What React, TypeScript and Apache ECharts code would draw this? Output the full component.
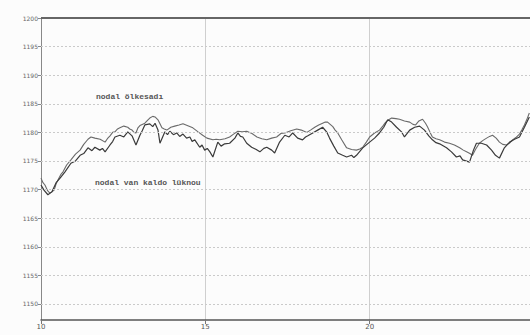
import React, { useEffect, useRef } from "react";
import * as echarts from "echarts";

const xTicks = [10, 15, 20];
const yTicks = [1150, 1155, 1160, 1165, 1170, 1175, 1180, 1185, 1190, 1195, 1200];

const upperX = [
  10.0, 10.06, 10.12, 10.2, 10.27, 10.33, 10.4, 10.46, 10.52, 10.6, 10.67, 10.78, 10.91, 11.05, 11.19, 11.3,
  11.43, 11.52, 11.64, 11.8, 11.95, 12.02, 12.1, 12.18, 12.25, 12.33, 12.4, 12.52, 12.64, 12.7, 12.77, 12.83,
  12.89, 12.95, 13.01, 13.08, 13.16, 13.24, 13.31, 13.4, 13.47, 13.56, 13.62, 13.68, 13.75, 13.83, 13.95, 14.07,
  14.2, 14.32, 14.45, 14.62, 14.78, 14.92, 15.05, 15.23, 15.33, 15.44, 15.6, 15.74, 15.86, 15.99, 16.12, 16.26,
  16.42, 16.57, 16.72, 16.87, 17.02, 17.17, 17.3, 17.42, 17.6, 17.78, 17.92, 18.09, 18.2, 18.33, 18.45, 18.57,
  18.65, 18.72, 18.8, 18.88, 18.95, 19.03, 19.15, 19.3, 19.45, 19.6, 19.7, 19.79, 19.9, 20.0, 20.15, 20.3,
  20.4, 20.49, 20.58, 20.67, 20.8, 20.91, 21.06, 21.22, 21.32, 21.4, 21.5, 21.61, 21.7, 21.76, 21.84, 21.91,
  22.02, 22.13, 22.28, 22.43, 22.58, 22.74, 22.85, 22.95, 23.05, 23.13, 23.22, 23.34, 23.45, 23.56, 23.65, 23.74,
  23.85, 23.95, 24.05, 24.16, 24.25, 24.35, 24.45, 24.56, 24.63, 24.71, 24.8, 24.86,
];
const upperY = [
  1172.0, 1171.2, 1170.8, 1169.8, 1169.4, 1169.6, 1169.9, 1171.0, 1171.7, 1172.6, 1173.1, 1174.3, 1175.2, 1176.2, 1176.9, 1177.9,
  1178.8, 1179.2, 1179.0, 1178.8, 1178.3, 1178.9, 1179.4, 1180.0, 1180.1, 1180.6, 1180.8, 1181.1, 1180.9, 1180.6, 1180.4, 1180.0,
  1179.9, 1180.8, 1181.2, 1181.4, 1181.6, 1182.1, 1182.5, 1182.8, 1182.7, 1182.2, 1181.5, 1180.8, 1180.6, 1180.4, 1180.9, 1181.1,
  1181.3, 1181.5, 1181.2, 1180.8, 1180.1, 1179.5, 1179.0, 1178.7, 1178.8, 1178.7, 1178.9, 1179.2, 1179.7, 1180.2, 1180.1, 1180.2,
  1179.8, 1179.2, 1178.9, 1178.7, 1179.0, 1179.2, 1179.8, 1179.9, 1180.3, 1180.6, 1180.4, 1180.0, 1180.4, 1180.9, 1181.3, 1181.6,
  1181.8, 1181.8, 1181.4, 1181.0, 1180.4, 1179.9, 1178.7, 1177.3, 1177.0, 1176.9, 1177.1, 1177.4, 1178.3, 1179.2, 1179.9, 1180.4,
  1181.1, 1181.8, 1182.2, 1182.5, 1182.4, 1182.3, 1182.0, 1181.8, 1181.4, 1181.3, 1182.0, 1182.3, 1181.6, 1181.0, 1180.0, 1179.2,
  1178.9, 1178.7, 1178.3, 1178.1, 1177.8, 1177.3, 1176.9, 1176.6, 1176.3, 1176.0, 1177.0, 1178.1, 1178.6, 1179.0, 1179.3, 1179.5,
  1179.0, 1178.3, 1177.9, 1177.8, 1178.1, 1178.7, 1179.1, 1179.7, 1180.4, 1181.3, 1182.5, 1183.4,
];

const lowerX = [
  10.0, 10.09, 10.21, 10.33, 10.46, 10.58, 10.73, 10.91, 11.05, 11.19, 11.3, 11.43, 11.55, 11.64, 11.79, 11.87,
  11.95, 12.1, 12.18, 12.25, 12.4, 12.52, 12.64, 12.77, 12.89, 13.01, 13.08, 13.16, 13.31, 13.4, 13.47, 13.56,
  13.62, 13.77, 13.85, 13.92, 14.03, 14.13, 14.22, 14.32, 14.43, 14.53, 14.6, 14.68, 14.83, 14.9, 14.98, 15.06,
  15.14, 15.23, 15.38, 15.48, 15.59, 15.74, 15.9, 15.99, 16.07, 16.14, 16.26, 16.41, 16.55, 16.66, 16.78, 16.87,
  17.02, 17.11, 17.26, 17.42, 17.55, 17.66, 17.81, 17.96, 18.05, 18.12, 18.27, 18.42, 18.57, 18.69, 18.78, 18.91,
  19.03, 19.18, 19.3, 19.45, 19.52, 19.6, 19.79, 20.0, 20.15, 20.3, 20.43, 20.55, 20.67, 20.82, 20.97, 21.06,
  21.22, 21.37, 21.52, 21.67, 21.8, 21.91, 22.02, 22.13, 22.34, 22.49, 22.64, 22.75, 22.83, 23.04, 23.16, 23.25,
  23.4, 23.56, 23.71, 23.83, 23.95, 24.1, 24.26, 24.41, 24.56, 24.71, 24.86,
];
const lowerY = [
  1170.8, 1169.9, 1169.1, 1169.6, 1171.2, 1172.0, 1173.1, 1174.6, 1175.0, 1176.0, 1176.3, 1177.3, 1176.8, 1177.4, 1176.9, 1177.2,
  1176.6, 1177.8, 1178.4, 1179.2, 1179.5, 1179.2, 1180.1, 1179.4, 1177.8, 1179.5, 1180.3, 1181.3, 1181.5, 1181.0, 1181.6, 1180.4,
  1178.1, 1180.1, 1179.6, 1180.2, 1179.6, 1179.9, 1179.3, 1179.7, 1179.0, 1179.2, 1178.4, 1178.7, 1177.4, 1177.8, 1176.9, 1177.2,
  1176.6, 1175.7, 1178.3, 1177.6, 1178.0, 1178.1, 1179.0, 1179.9, 1179.3, 1179.2, 1178.1, 1177.4, 1177.0, 1176.6, 1177.2, 1177.4,
  1176.9, 1176.4, 1178.3, 1179.5, 1179.2, 1179.9, 1179.0, 1178.7, 1179.2, 1179.4, 1179.9, 1180.4, 1180.9, 1180.1, 1179.0, 1177.6,
  1176.4, 1176.0, 1175.7, 1176.0, 1175.6, 1176.0, 1177.3, 1178.3, 1179.0, 1179.9, 1180.9, 1182.2, 1181.8, 1180.9, 1180.1, 1179.2,
  1180.4, 1180.9, 1181.1, 1180.4, 1179.4, 1178.7, 1178.2, 1178.0, 1177.3, 1176.6, 1175.7, 1175.9, 1175.2, 1174.8, 1176.9, 1178.1,
  1178.1, 1177.8, 1176.9, 1176.0, 1175.5, 1177.3, 1178.3, 1178.8, 1179.2, 1180.9, 1182.7,
];

const labelUpper = "nodal ölkesadı";
const labelLower = "nodal van kaldo lüknou";

export default function App() {
  const ref = useRef<HTMLDivElement>(null);
  useEffect(() => {
    document.body.style.margin = "0";
    const chart = echarts.init(ref.current!, null, { renderer: "svg" });
    const upper = upperX.map((x, i) => [x, upperY[i]]);
    const lower = lowerX.map((x, i) => [x, lowerY[i]]);
    chart.setOption({
      animation: false,
      backgroundColor: "#fcfcfc",
      grid: { left: 41, right: 0, top: 18, bottom: 15 },
      xAxis: {
        type: "value",
        min: 10,
        max: 24.88,
        interval: 5,
        axisLine: { lineStyle: { color: "#555", width: 1.5 } },
        axisTick: { length: 4, lineStyle: { color: "#777" } },
        axisLabel: {
          fontSize: 7,
          color: "#555",
          margin: 3,
          fontFamily: "DejaVu Sans",
          showMaxLabel: false,
          formatter: (v: number) => (xTicks.includes(v) ? String(v) : ""),
        },
        splitLine: { show: true, lineStyle: { color: "#cfcfcf", width: 1 } },
      },
      yAxis: {
        type: "value",
        min: 1147.2,
        max: 1200,
        axisLine: { show: true, lineStyle: { color: "#888", width: 1 } },
        axisTick: { show: true, length: 3, customValues: yTicks, lineStyle: { color: "#888" } },
        axisLabel: {
          fontSize: 6,
          color: "#666",
          margin: 3,
          fontFamily: "DejaVu Sans",
          customValues: yTicks,
          formatter: (v: number) => String(v),
        },
        splitLine: { show: false },
      },
      graphic: [
        {
          type: "text",
          left: 96,
          top: 92,
          style: { text: labelUpper, font: "bold 8px 'Liberation Mono'", fill: "#555" },
        },
        {
          type: "text",
          left: 95,
          top: 178,
          style: { text: labelLower, font: "bold 8px 'Liberation Mono'", fill: "#555" },
        },
      ],
      series: [
        {
          type: "line",
          data: upper,
          showSymbol: false,
          lineStyle: { color: "#6a6a6a", width: 1.1 },
          markLine: {
            silent: true,
            symbol: "none",
            label: { show: false },
            lineStyle: { color: "#cacaca", type: [2, 2], width: 1 },
            data: yTicks.filter((v) => v < 1200).map((v) => ({ yAxis: v })),
          },
        },
        {
          type: "line",
          data: lower,
          showSymbol: false,
          lineStyle: { color: "#3a3a3a", width: 1.2 },
          markLine: {
            silent: true,
            symbol: "none",
            label: { show: false },
            lineStyle: { color: "#666", type: "solid", width: 2 },
            data: [{ yAxis: 1200 }],
          },
        },
      ],
    });
    return () => chart.dispose();
  }, []);
  return <div ref={ref} style={{ width: 530, height: 335 }} />;
}
